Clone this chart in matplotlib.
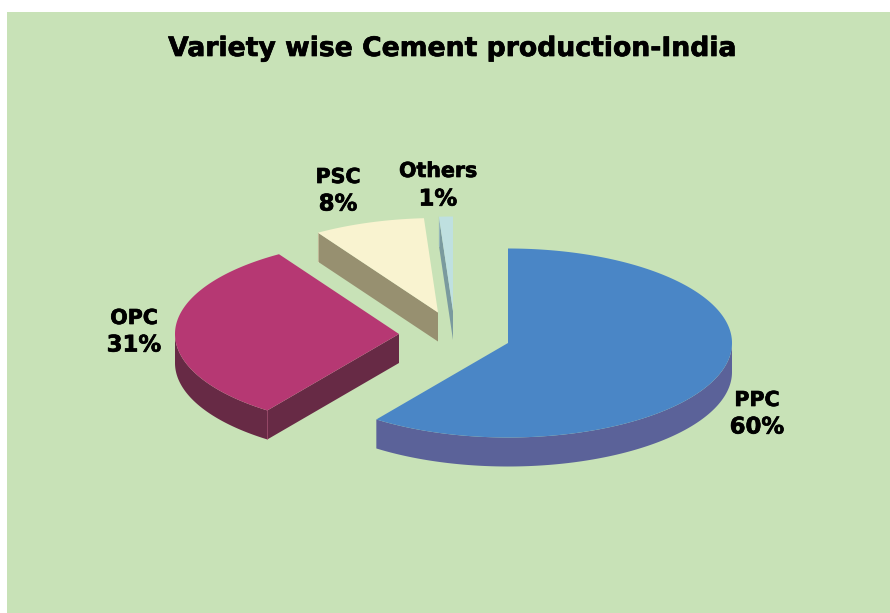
import numpy as np
import matplotlib
matplotlib.use("Agg")
import matplotlib.pyplot as plt
import matplotlib.patheffects as pe

TITLE = "Variety wise Cement production-India"
categories = ["PPC", "OPC", "PSC", "Others"]
shares = [60, 31, 8, 1]
top_colors = ["#4A86C6", "#B63873", "#F9F3D0", "#BFE0E0"]
side_colors = ["#5B6299", "#672A45", "#979070", "#7A9A9E"]

BG = "#C8E2B7"
RX, RY, DEPTH = 224, 94.5, 29

# apex of each exploded slice, in image pixels
apexes = [(508, 343), (399, 334), (438, 312.5), (453, 311)]
# x, y of the name line and y of the percent line
label_pos = [(757, 400, 427), (134, 318, 345), (338, 177, 204), (438, 171, 199)]

HEAVY = [pe.withStroke(linewidth=0.5, foreground="black")]


def rim(cx, cy, a0, a1):
    # angles are degrees clockwise from 12 o'clock
    t = np.radians(np.linspace(a0, a1, max(2, int(abs(a1 - a0) * 2))))
    return cx + RX * np.sin(t), cy - RY * np.cos(t)


def draw_slice(ax, cx, cy, a0, a1, top, side):
    # outer wall, only the part facing the viewer
    lo, hi = max(a0, 90), min(a1, 270)
    if lo < hi:
        x, y = rim(cx, cy, lo, hi)
        ax.fill(np.r_[x, x[::-1]], np.r_[y, y[::-1] + DEPTH], color=side, lw=0)
    # cut wall on the starting edge
    if a0 >= 180:
        x, y = rim(cx, cy, a0, a0)
        ax.fill([cx, x[0], x[0], cx], [cy, y[0], y[0] + DEPTH, cy + DEPTH], color=side, lw=0)
        ax.plot([x[0], x[0]], [y[0], y[0] + DEPTH], color=top, lw=0.5, alpha=0.6)
    x, y = rim(cx, cy, a0, a1)
    ax.fill(np.r_[cx, x], np.r_[cy, y], color=top, lw=0)


def main():
    fig = plt.figure(figsize=(8.9, 6.13), dpi=100, facecolor="white")
    ax = fig.add_axes([0, 0, 1, 1])
    ax.set_xlim(0, 890)
    ax.set_ylim(613, 0)
    ax.axis("off")
    ax.add_patch(plt.Rectangle((7, 12), 883, 601, color=BG, lw=0))

    edges = np.cumsum([0] + shares) / sum(shares) * 360
    for i in range(len(shares)):
        cx, cy = apexes[i]
        draw_slice(ax, cx, cy, edges[i], edges[i + 1], top_colors[i], side_colors[i])
        lx, y_name, y_pct = label_pos[i]
        ax.text(lx, y_name, categories[i], ha="center", va="center", fontsize=14.8,
                fontweight="bold", color="black", path_effects=HEAVY)
        ax.text(lx, y_pct, f"{shares[i]}%", ha="center", va="center", fontsize=16.4,
                fontweight="bold", color="black", path_effects=HEAVY)

    ax.text(452, 49, TITLE, ha="center", va="center", fontsize=19.2, fontweight="bold",
            color="black", path_effects=HEAVY)
    fig.savefig("out.png", dpi=100, facecolor="white")
    plt.close(fig)


if __name__ == "__main__":
    main()
